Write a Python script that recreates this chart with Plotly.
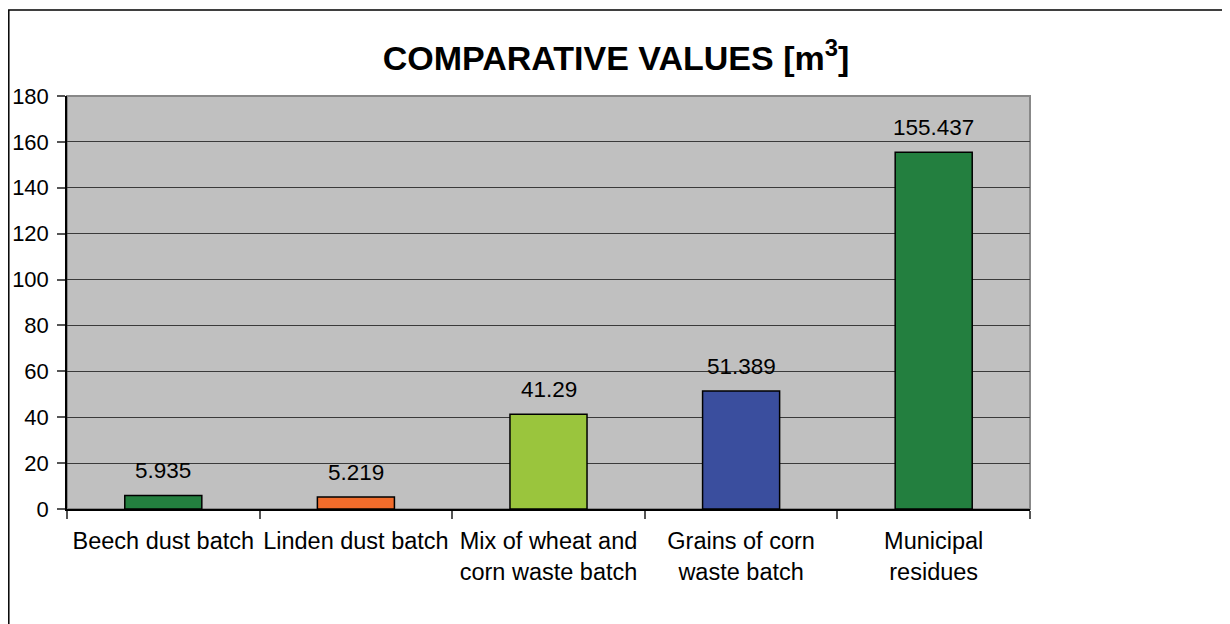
import plotly.graph_objects as go

categories = ["Beech dust batch", "Linden dust batch", "Mix of wheat and<br>corn waste batch",
              "Grains of corn<br>waste batch", "Municipal<br>residues"]
values = [5.935, 5.219, 41.29, 51.389, 155.437]
labels = ["5.935", "5.219", "41.29", "51.389", "155.437"]
colors = ["#237F3F", "#F26C2B", "#9AC53D", "#3A4E9E", "#237F3F"]
y_ticks = [0, 20, 40, 60, 80, 100, 120, 140, 160, 180]

FONT = "Liberation Sans, Arial, sans-serif"
FS = 23.5

fig = go.Figure()
fig.add_trace(go.Bar(
    x=categories, y=values, width=0.4,
    marker=dict(color=colors, line=dict(color="#000000", width=1.5)),
    showlegend=False, hoverinfo="skip",
))

for c, v, t in zip(categories, values, labels):
    fig.add_annotation(x=c, y=v, text=t, showarrow=False, yanchor="bottom",
                       yshift=10, font=dict(size=22.5, color="#000000", family=FONT))

# plot area border (gray)
fig.add_shape(type="rect", xref="x domain", yref="y domain", x0=0, x1=1, y0=0, y1=1,
              line=dict(color="#888888", width=2), layer="below")
# outer chart border (extends beyond view)
fig.add_shape(type="rect", xref="paper", yref="paper",
              x0=(0.8 - 59) / 963, x1=(1300 - 59) / 963,
              y0=(501 - 700) / 413, y1=(501 - 2) / 413,
              line=dict(color="#000000", width=1.5), layer="below")

fig.update_layout(
    width=1222, height=616,
    margin=dict(l=59, r=200, t=88, b=115, autoexpand=False),
    paper_bgcolor="#FFFFFF", plot_bgcolor="#C0C0C0",
    font=dict(family=FONT, size=FS, color="#000000"),
    title=dict(text="<b>COMPARATIVE VALUES [m<sup>3</sup>]</b>", x=608 / 1222, xanchor="center",
               y=1 - 50 / 616, yanchor="middle", xref="container", automargin=False,
               font=dict(size=34, family=FONT, color="#000000")),
    bargap=0.6,
)
fig.update_xaxes(showline=True, linecolor="#000000", linewidth=1.5,
                 ticks="outside", ticklen=8, tickcolor="#555555", tickwidth=1.5,
                 tickson="boundaries", showgrid=False, automargin=False,
                 ticklabelstandoff=10, tickangle=0,
                 tickfont=dict(size=FS, family=FONT, color="#000000"))
fig.update_yaxes(range=[0, 180], tickvals=y_ticks, showline=True, linecolor="#000000", linewidth=1.5,
                 ticks="outside", ticklen=8, tickcolor="#555555", tickwidth=1.5,
                 showgrid=True, gridcolor="#3a3a3a", gridwidth=1, zeroline=False,
                 ticklabelstandoff=4, automargin=False,
                 tickfont=dict(size=22, family=FONT, color="#000000"))

fig.write_html("out.html")
